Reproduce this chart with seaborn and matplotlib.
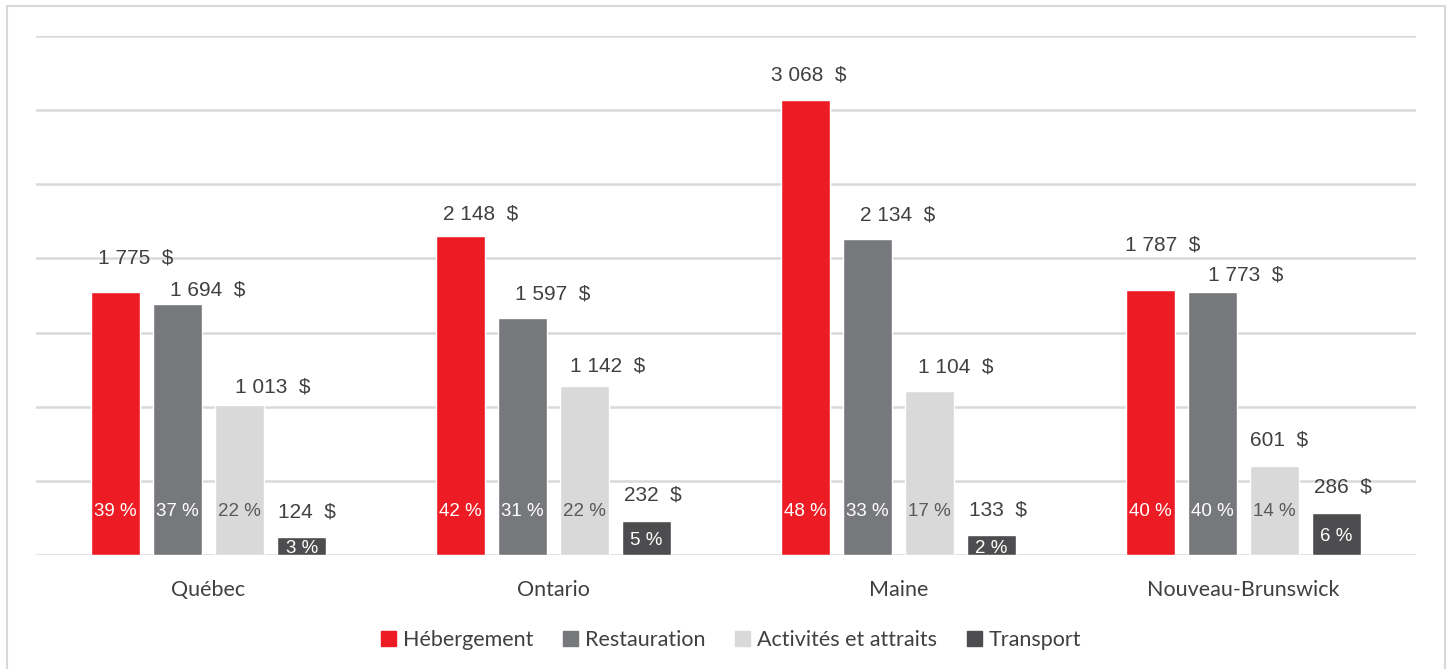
import matplotlib
matplotlib.use("Agg")
import matplotlib.pyplot as plt
import matplotlib.patches as mpatches
import seaborn as sns
import pandas as pd

regions = ["Québec", "Ontario", "Maine", "Nouveau-Brunswick"]
series = ["Hébergement", "Restauration", "Activités et attraits", "Transport"]
hebergement = [1775, 2148, 3068, 1787]
restauration = [1694, 1597, 2134, 1773]
activites = [1013, 1142, 1104, 601]
transport = [124, 232, 133, 286]
pct_hebergement = [39, 42, 48, 40]
pct_restauration = [37, 31, 33, 40]
pct_activites = [22, 22, 17, 14]
pct_transport = [3, 5, 2, 6]

colors = ["#ED1C24", "#77787B", "#D9D9D9", "#4D4D4F"]
pct_colors = ["white", "white", "#595959", "white"]

# label nudges in pixels (dx, dy above bar top) per series, per region
dx = [[20, 20, 3, 12], [30, 30, 30, 33], [33, 23, 26, 5], [5, 6, 6, 6]]
dy = [[34, 22, 25, 45], [14, 24, 24, 17], [18, 20, 24, 26], [25, 26, 25, 26]]

values = [hebergement, restauration, activites, transport]
pcts = [pct_hebergement, pct_restauration, pct_activites, pct_transport]

rows = []
for s, vals in zip(series, values):
    for r, v in zip(regions, vals):
        rows.append({"Région": r, "Catégorie": s, "Dépense": v})
df = pd.DataFrame(rows)

sns.set_theme(style="white")
plt.rcParams["font.family"] = ["Lato", "DejaVu Sans"]

fig = plt.figure(figsize=(14.51, 6.69), dpi=100)
W, H = 1451, 669
ax = fig.add_axes([36 / W, 1 - 555 / H, 1380 / W, 519 / H])

sns.barplot(data=df, x="Région", y="Dépense", hue="Catégorie", order=regions,
            hue_order=series, palette=colors, width=0.72, gap=0.21,
            saturation=1, ax=ax, legend=False, errorbar=None)

ax.set_ylim(0, 3500)
ax.set_xlim(-0.5, 3.5)
ax.set_yticks(range(0, 3501, 500))
ax.yaxis.grid(True, color="#D9D9D9", linewidth=1.8)
ax.set_axisbelow(True)
for sp in ax.spines.values():
    sp.set_visible(False)
ax.tick_params(axis="y", left=False, labelleft=False)
ax.tick_params(axis="x", bottom=False, labelsize=15.5, colors="#404040", pad=12)
ax.set_xlabel("")
ax.set_ylabel("")
for lab in ax.get_xticklabels():
    lab.set_fontfamily(["Lato", "DejaVu Sans"])

def fmt(v):
    return f"{v:,}".replace(",", " ") + "  $"

for si, cont in enumerate(ax.containers):
    for ri, bar in enumerate(cont):
        v = values[si][ri]
        xc = bar.get_x() + bar.get_width() / 2
        ax.annotate(fmt(v), (xc, v), xytext=(dx[si][ri], dy[si][ri]),
                    textcoords="offset pixels", ha="center", va="center",
                    fontsize=15, color="#404040", family="Liberation Sans")
        if si < 3:
            ax.annotate(f"{pcts[si][ri]} %", (xc, 0), xytext=(0, 43),
                        textcoords="offset pixels", ha="center", va="center",
                        fontsize=13.5, color=pct_colors[si], family="Liberation Sans")
        else:
            ax.annotate(f"{pcts[si][ri]} %", (xc, v / 2), xytext=(0, -3),
                        textcoords="offset pixels", ha="center", va="center",
                        fontsize=13.5, color=pct_colors[si], family="Liberation Sans")

handles = [mpatches.Patch(color=c, label=s) for c, s in zip(colors, series)]
fig.legend(handles=handles, loc="center", bbox_to_anchor=(731 / W, 1 - 640 / H),
           ncol=4, frameon=False, fontsize=15.5, handlelength=0.7, handleheight=0.7,
           handletextpad=0.3, columnspacing=1.4, labelcolor="#404040")

fig.patches.append(mpatches.Rectangle((7 / W, -0.01), 1438 / W, 1 - 6 / H + 0.01,
                                      transform=fig.transFigure, fill=False,
                                      edgecolor="#D9D9D9", linewidth=1.5))

fig.savefig("out.png", dpi=100, facecolor="white")
